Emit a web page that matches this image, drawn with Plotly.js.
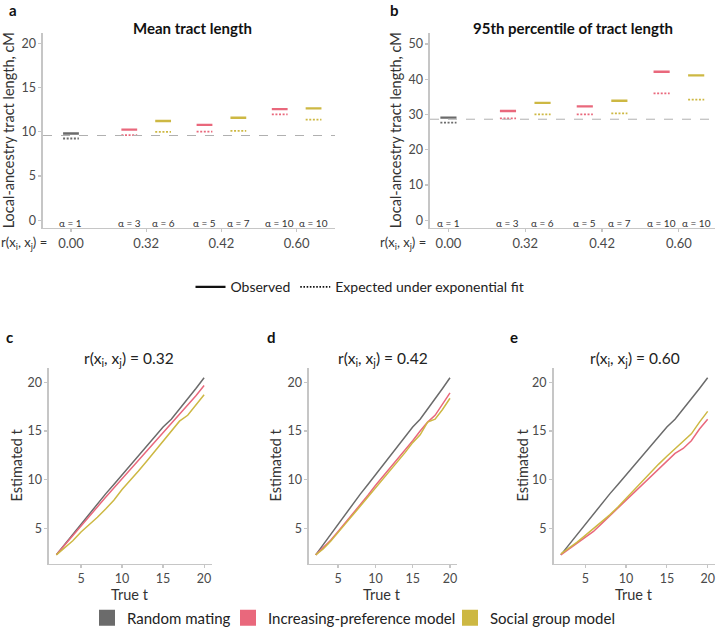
<!DOCTYPE html>
<html>
<head>
<meta charset="utf-8">
<script src="https://cdn.plot.ly/plotly-3.0.1.min.js"></script>
<style>
  html, body { margin: 0; padding: 0; background: #fff; }
  #chart { width: 720px; height: 635px; }
</style>
</head>
<body>
<div id="chart"></div>
<script>
// ---- data: panels a and b ----
var rLabels = ['0.00', '0.32', '0.42', '0.60'];
var alphaLabels = ['α = 1', 'α = 3', 'α = 6', 'α = 5', 'α = 7', 'α = 10', 'α = 10'];
var alphaGroup = [0, 1, 1, 2, 2, 3, 3];
var alphaModel = ['random', 'pref', 'social', 'pref', 'social', 'pref', 'social'];

var meanObserved = [9.81, 10.26, 11.24, 10.79, 11.61, 12.58, 12.66];
var meanExpected = [9.25, 9.63, 10.0, 10.04, 10.11, 11.99, 11.39];
var meanRandomRef = 9.59;

var p95Observed = [29.1, 31.0, 33.3, 32.3, 33.9, 42.1, 41.1];
var p95Expected = [27.7, 28.9, 30.0, 30.0, 30.3, 36.0, 34.2];
var p95RandomRef = 28.65;

// ---- data: panels c, d, e ----
var trueT = [2, 3, 4, 5, 6, 7, 8, 9, 10, 11, 12, 13, 14, 15, 16, 17, 18, 19, 20];
var randomEst = [2.3, 3.35, 4.45, 5.5, 6.55, 7.55, 8.55, 9.5, 10.5, 11.5, 12.5, 13.5, 14.5, 15.4, 16.2, 17.2, 18.3, 19.35, 20.45];

var prefEst032 = [2.3, 3.3, 4.3, 5.3, 6.25, 7.2, 8.2, 9.15, 10.1, 11.05, 12.0, 12.95, 13.9, 14.85, 15.75, 16.65, 17.6, 18.6, 19.65];
var socialEst032 = [2.3, 3.0, 3.75, 4.65, 5.35, 6.15, 7.0, 7.9, 9.0, 9.9, 10.9, 11.9, 12.9, 13.9, 15.0, 16.0, 16.6, 17.6, 18.7];

var prefEst042 = [2.3, 3.0, 3.8, 4.7, 5.6, 6.5, 7.4, 8.4, 9.4, 10.3, 11.2, 12.1, 13.0, 14.0, 15.0, 15.9, 16.6, 17.7, 18.9];
var socialEst042 = [2.3, 2.9, 3.7, 4.55, 5.5, 6.4, 7.3, 8.2, 9.2, 10.1, 11.0, 11.9, 12.8, 13.8, 14.6, 15.9, 16.2, 17.2, 18.35];

var prefEst060 = [2.3, 2.9, 3.5, 4.1, 4.7, 5.5, 6.3, 7.1, 8.0, 8.8, 9.6, 10.4, 11.2, 12.0, 12.7, 13.2, 14.0, 15.2, 16.2];
var socialEst060 = [2.4, 3.0, 3.6, 4.3, 5.0, 5.7, 6.4, 7.2, 8.1, 9.0, 9.8, 10.7, 11.6, 12.4, 13.2, 13.9, 14.7, 15.9, 17.0];

var modelNames = {random: 'Random mating', pref: 'Increasing-preference model', social: 'Social group model'};
var colors = {random: '#6b6b6b', pref: '#e9687c', social: '#cdb843'};

var font = 'Lato, "Open Sans", sans-serif';
var W = 720, H = 635;
function px(x) { return x / W; }
function py(y) { return 1 - y / H; }

// centre of each alpha segment: groups with two models are split left/right
function segCentres() {
  var out = [];
  for (var i = 0; i < alphaGroup.length; i++) {
    var g = alphaGroup[i];
    var n = alphaGroup.filter(function (v) { return v === g; }).length;
    var k = alphaGroup.slice(0, i).filter(function (v) { return v === g; }).length;
    out.push(n === 1 ? g : g + (k === 0 ? -0.225 : 0.225));
  }
  return out;
}
var centres = segCentres();
var halfW = 0.105;

function segTraces(values, dashed, xa, ya) {
  var traces = [];
  ['random', 'pref', 'social'].forEach(function (m) {
    var xs = [], ys = [];
    for (var i = 0; i < values.length; i++) {
      if (alphaModel[i] !== m) continue;
      xs.push(centres[i] - halfW, centres[i] + halfW, null);
      ys.push(values[i], values[i], null);
    }
    traces.push({
      x: xs, y: ys, xaxis: xa, yaxis: ya, mode: 'lines', showlegend: false,
      hoverinfo: 'skip',
      line: dashed ? {color: colors[m], width: 1.8, dash: '2px,1.6px'} : {color: colors[m], width: 2.4}
    });
  });
  return traces;
}

var data = [];
data = data.concat(segTraces(meanObserved, false, 'x', 'y'));
data = data.concat(segTraces(meanExpected, true, 'x', 'y'));
data = data.concat(segTraces(p95Observed, false, 'x2', 'y2'));
data = data.concat(segTraces(p95Expected, true, 'x2', 'y2'));

var lower = [
  {xa: 'x3', ya: 'y3', pref: prefEst032, social: socialEst032},
  {xa: 'x4', ya: 'y4', pref: prefEst042, social: socialEst042},
  {xa: 'x5', ya: 'y5', pref: prefEst060, social: socialEst060}
];
lower.forEach(function (p) {
  [['random', randomEst], ['pref', p.pref], ['social', p.social]].forEach(function (s) {
    data.push({
      x: trueT, y: s[1], xaxis: p.xa, yaxis: p.ya, mode: 'lines', showlegend: false,
      line: {color: colors[s[0]], width: 1.5}
    });
  });
});

// legend entries
data.push({x: [null], y: [null], xaxis: 'x', yaxis: 'y', mode: 'lines', name: 'Observed',
  line: {color: '#111', width: 2.2}, legend: 'legend'});
data.push({x: [null], y: [null], xaxis: 'x', yaxis: 'y', mode: 'lines', name: 'Expected under exponential fit',
  line: {color: '#111', width: 1.6, dash: '1.6px,1.6px'}, legend: 'legend'});
// one legend per model so the spacing between entries can be set
var modelLegendX = {random: 87, pref: 228, social: 450};
['random', 'pref', 'social'].forEach(function (m, i) {
  data.push({x: [null], y: [null], xaxis: 'x3', yaxis: 'y3', mode: 'markers', name: modelNames[m],
    marker: {color: colors[m], symbol: 'square', size: 18}, legend: 'legend' + (i + 2)});
});

var axisLine = {
  showline: true, linecolor: '#c6c6c6', linewidth: 1.6, showgrid: false, zeroline: false,
  ticks: 'outside', ticklen: 3, tickcolor: '#c6c6c6', tickwidth: 1.2,
  tickfont: {family: font, size: 12.5, color: '#4a4a4a'}, fixedrange: true
};
function ax(extra) { return Object.assign({}, axisLine, extra); }
var yTitleFont = {family: font, size: 14.5, color: '#333'};

var layout = {
  width: W, height: H,
  margin: {l: 0, r: 0, t: 0, b: 0},
  paper_bgcolor: '#fff', plot_bgcolor: '#fff',
  font: {family: font, color: '#333'},
  showlegend: true,
  xaxis: ax({domain: [px(43), px(335)], range: [-0.372, 3.51], tickvals: [0, 1, 2, 3], ticktext: rLabels,
    tickfont: {family: font, size: 13, color: '#4a4a4a'}, anchor: 'y'}),
  yaxis: ax({domain: [py(230), py(33)], range: [-0.87, 21.24], tickvals: [0, 5, 10, 15, 20], anchor: 'x',
    title: {text: 'Local-ancestry tract length, cM', font: yTitleFont, standoff: 3}}),
  xaxis2: ax({domain: [px(430), px(715)], range: [-0.24, 3.47], tickvals: [0, 1, 2, 3], ticktext: rLabels,
    tickfont: {family: font, size: 13, color: '#4a4a4a'}, anchor: 'y2'}),
  yaxis2: ax({domain: [py(230), py(33)], range: [-2.16, 53.2], tickvals: [0, 10, 20, 30, 40, 50], anchor: 'x2',
    title: {text: 'Local-ancestry tract length, cM', font: yTitleFont, standoff: 3}}),
  xaxis3: ax({domain: [px(49), px(211.5)], range: [1.1, 20.9], tickvals: [5, 10, 15, 20], anchor: 'y3'}),
  yaxis3: ax({domain: [py(569), py(372)], range: [1.4, 21.4], tickvals: [5, 10, 15, 20], anchor: 'x3'}),
  xaxis4: ax({domain: [px(309), px(456.7)], range: [1.1, 20.9], tickvals: [5, 10, 15, 20], anchor: 'y4'}),
  yaxis4: ax({domain: [py(569), py(372)], range: [1.4, 21.4], tickvals: [5, 10, 15, 20], anchor: 'x4'}),
  xaxis5: ax({domain: [px(553.5), px(715)], range: [1.1, 20.9], tickvals: [5, 10, 15, 20], anchor: 'y5'}),
  yaxis5: ax({domain: [py(569), py(372)], range: [1.4, 21.4], tickvals: [5, 10, 15, 20], anchor: 'x5'}),
  legend: {
    orientation: 'h', x: 0.5, xanchor: 'center', y: py(290), yanchor: 'middle',
    font: {family: font, size: 14, color: '#222'}, bgcolor: 'rgba(0,0,0,0)', traceorder: 'normal'
  },
  shapes: [
    {type: 'line', xref: 'x domain', x0: 0, x1: 1, yref: 'y', y0: meanRandomRef, y1: meanRandomRef,
      line: {color: '#b0b0b0', width: 1, dash: 'dash'}},
    {type: 'line', xref: 'x2 domain', x0: 0, x1: 1, yref: 'y2', y0: p95RandomRef, y1: p95RandomRef,
      line: {color: '#b0b0b0', width: 1, dash: 'dash'}}
  ],
  annotations: []
};
['random', 'pref', 'social'].forEach(function (m, i) {
  layout['legend' + (i + 2)] = {
    orientation: 'h', x: px(modelLegendX[m]), xanchor: 'left', y: py(624), yanchor: 'middle',
    font: {family: font, size: 15, color: '#222'}, bgcolor: 'rgba(0,0,0,0)'
  };
});

var ann = layout.annotations;
function note(text, x, y, opts) {
  ann.push(Object.assign({text: text, xref: 'paper', yref: 'paper', x: px(x), y: py(y),
    showarrow: false, xanchor: 'center', yanchor: 'middle',
    font: {family: font, size: 13, color: '#333'}}, opts || {}));
}

// panel letters
note('<b>a</b>', 7, 10, {xanchor: 'left', font: {family: font, size: 15, color: '#111'}});
note('<b>b</b>', 388, 10, {xanchor: 'left', font: {family: font, size: 15, color: '#111'}});
note('<b>c</b>', 4, 340, {xanchor: 'left', font: {family: font, size: 15, color: '#111'}});
note('<b>d</b>', 265, 340, {xanchor: 'left', font: {family: font, size: 15, color: '#111'}});
note('<b>e</b>', 508, 340, {xanchor: 'left', font: {family: font, size: 15, color: '#111'}});

// panel titles
note('<b>Mean tract length</b>', 192, 28, {font: {family: font, size: 15, color: '#111'}});
note('<b>95th percentile of tract length</b>', 573, 28, {font: {family: font, size: 15, color: '#111'}});
note('r(x<sub>i</sub>, x<sub>j</sub>) = 0.32', 129, 362, {font: {family: font, size: 15.5, color: '#222'}});
note('r(x<sub>i</sub>, x<sub>j</sub>) = 0.42', 383, 362, {font: {family: font, size: 15.5, color: '#222'}});
note('r(x<sub>i</sub>, x<sub>j</sub>) = 0.60', 635, 362, {font: {family: font, size: 15.5, color: '#222'}});

// axis titles for the lower panels
note('Estimated t', 17, 470, {textangle: -90, font: yTitleFont});
note('Estimated t', 276, 470, {textangle: -90, font: yTitleFont});
note('Estimated t', 523, 470, {textangle: -90, font: yTitleFont});
note('True t', 130, 600, {font: yTitleFont});
note('True t', 382, 600, {font: yTitleFont});
note('True t', 634, 600, {font: yTitleFont});

// r(xi, xj) = row labels
note('r(x<sub>i</sub>, x<sub>j</sub>) =', 49, 245, {xanchor: 'right', font: {family: font, size: 13, color: '#333'}});
note('r(x<sub>i</sub>, x<sub>j</sub>) =', 428, 245, {xanchor: 'right', font: {family: font, size: 13, color: '#333'}});

// alpha labels above the axis line
['x', 'x2'].forEach(function (xa) {
  for (var i = 0; i < alphaLabels.length; i++) {
    ann.push({text: alphaLabels[i], xref: xa, yref: 'paper', x: centres[i], y: py(225),
      showarrow: false, xanchor: 'center', yanchor: 'middle',
      font: {family: font, size: 10, color: '#333'}});
  }
});

Plotly.newPlot('chart', data, layout, {displayModeBar: false, staticPlot: true});
</script>
</body>
</html>
